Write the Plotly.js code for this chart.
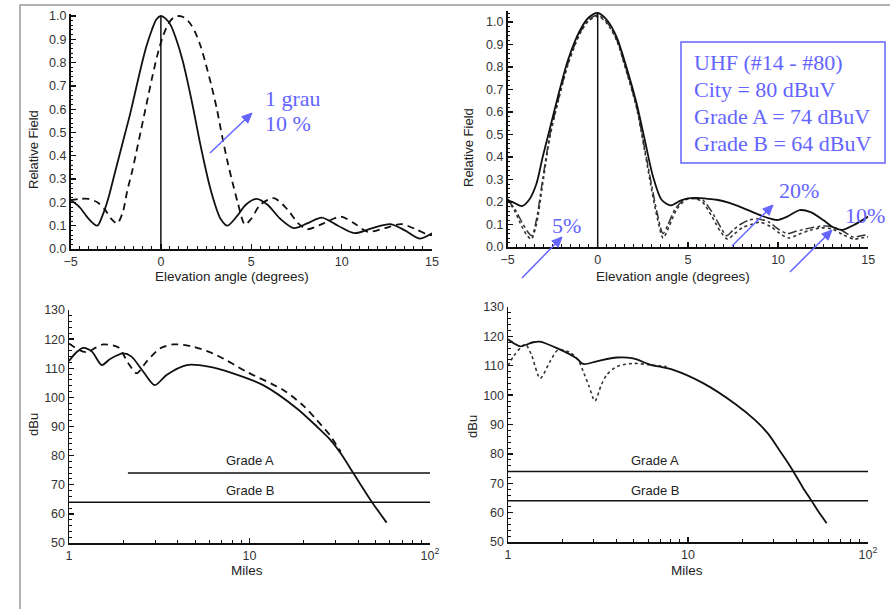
<!DOCTYPE html>
<html>
<head>
<meta charset="utf-8">
<script src="https://cdn.plot.ly/plotly-3.0.1.min.js"></script>
<style>html,body{margin:0;padding:0;background:#fff;}#chart{width:890px;height:609px;}</style>
</head>
<body>
<div id="chart"></div>
<script>
// ---------- DATA ----------
// Panel 1: relative field vs elevation angle (degrees)
const p1SolidX = [-5, -4.5, -4, -3.52, -3.2, -2.9, -2.6, -2.3, -2.0, -1.7, -1.4, -1.1, -0.8, -0.5, -0.25, 0, 0.25, 0.55, 0.85, 1.2, 1.5, 1.8, 2.1, 2.4, 2.7, 3.0, 3.3, 3.68, 4.2, 4.7, 5.3, 5.9, 6.6, 7.35, 8.1, 8.9, 9.8, 10.7, 11.7, 12.7, 13.5, 14.3, 15];
const p1SolidY = [0.21, 0.18, 0.13, 0.10, 0.15, 0.22, 0.31, 0.40, 0.49, 0.58, 0.68, 0.78, 0.87, 0.94, 0.985, 1.0, 0.99, 0.96, 0.90, 0.81, 0.71, 0.60, 0.48, 0.37, 0.27, 0.19, 0.13, 0.10, 0.14, 0.19, 0.215, 0.19, 0.13, 0.09, 0.11, 0.135, 0.10, 0.068, 0.09, 0.107, 0.08, 0.045, 0.068];
const p1DashX = [-5, -4.5, -4.0, -3.5, -3.1, -2.75, -2.41, -2.1, -1.86, -1.6, -1.4, -1.1, -0.8, -0.5, -0.2, 0.1, 0.4, 0.7, 1.0, 1.3, 1.6, 1.9, 2.2, 2.5, 2.8, 3.1, 3.4, 3.7, 3.95, 4.25, 4.65, 5.0, 5.5, 6.25, 7.0, 7.6, 8.1, 9.0, 9.95, 10.7, 11.45, 12.4, 13.3, 14.1, 14.8, 15];
const p1DashY = [0.21, 0.215, 0.215, 0.20, 0.17, 0.13, 0.11, 0.16, 0.25, 0.33, 0.40, 0.51, 0.62, 0.73, 0.83, 0.91, 0.965, 0.993, 1.0, 0.993, 0.97, 0.93, 0.87, 0.79, 0.70, 0.60, 0.48, 0.37, 0.29, 0.20, 0.105, 0.13, 0.19, 0.218, 0.17, 0.11, 0.085, 0.11, 0.139, 0.11, 0.074, 0.09, 0.107, 0.085, 0.06, 0.06];

// Panel 2: three null-fill patterns (solid 20%, dash-dot 10%, dotted 5%)
const p2SolidX = [-5, -4.6, -4.2, -3.8, -3.4, -3.05, -2.67, -2.2, -1.65, -1.0, -0.5, 0, 0.5, 1.04, 1.59, 2.15, 2.61, 3.07, 3.54, 4.05, 4.55, 5.0, 5.5, 6.0, 6.6, 7.3, 8.0, 8.8, 9.4, 9.95, 10.5, 11.2, 11.8, 12.5, 13.0, 13.55, 14.2, 15];
const p2SolidY = [0.21, 0.195, 0.182, 0.21, 0.28, 0.40, 0.52, 0.67, 0.83, 0.96, 1.02, 1.04, 1.01, 0.935, 0.80, 0.64, 0.476, 0.312, 0.21, 0.185, 0.205, 0.216, 0.218, 0.215, 0.21, 0.196, 0.175, 0.148, 0.13, 0.12, 0.135, 0.164, 0.155, 0.12, 0.09, 0.076, 0.098, 0.135];
const p2DashDotX = [-5, -4.6, -4.2, -3.9, -3.65, -3.4, -3.05, -2.67, -2.2, -1.65, -1.0, -0.5, 0, 0.5, 1.04, 1.59, 2.15, 2.6, 3.0, 3.3, 3.62, 3.9, 4.3, 4.8, 5.3, 5.8, 6.3, 6.8, 7.15, 7.5, 7.9, 8.4, 8.9, 9.5, 10.0, 10.5, 11.0, 11.8, 12.5, 13.0, 13.6, 14.15, 14.6, 15];
const p2DashDotY = [0.21, 0.17, 0.11, 0.07, 0.05, 0.12, 0.30, 0.49, 0.65, 0.815, 0.95, 1.01, 1.03, 1.0, 0.925, 0.785, 0.625, 0.44, 0.27, 0.15, 0.06, 0.10, 0.17, 0.21, 0.216, 0.21, 0.16, 0.09, 0.05, 0.075, 0.10, 0.12, 0.125, 0.11, 0.08, 0.06, 0.07, 0.085, 0.093, 0.09, 0.07, 0.045, 0.05, 0.055];
const p2DotX = [-5, -4.6, -4.2, -3.9, -3.68, -3.4, -3.05, -2.67, -2.2, -1.65, -1.0, -0.5, 0, 0.5, 1.04, 1.59, 2.15, 2.6, 3.0, 3.3, 3.63, 3.95, 4.4, 4.9, 5.35, 5.8, 6.3, 6.8, 7.2, 7.6, 8.0, 8.5, 9.0, 9.6, 10.1, 10.6, 11.1, 11.8, 12.4, 13.0, 13.6, 14.2, 14.6, 15];
const p2DotY = [0.21, 0.16, 0.09, 0.05, 0.035, 0.10, 0.28, 0.48, 0.645, 0.81, 0.945, 1.005, 1.025, 0.995, 0.92, 0.78, 0.62, 0.43, 0.25, 0.13, 0.04, 0.09, 0.17, 0.21, 0.216, 0.20, 0.14, 0.07, 0.035, 0.06, 0.085, 0.10, 0.11, 0.09, 0.06, 0.04, 0.055, 0.075, 0.085, 0.08, 0.055, 0.035, 0.04, 0.045];

// Centre (0 degree) reference lines
const centerX = [0, 0];
const p1CenterY = [0, 1.0];
const p2CenterY = [0, 1.04];

// Panel 3: field strength (dBu) vs distance (miles)
const p3SolidX = [1.0, 1.1, 1.2, 1.34, 1.52, 1.69, 2.0, 2.22, 2.58, 2.99, 3.47, 4.49, 6.04, 7.8, 11.9, 18.3, 23.6, 27.9, 32, 37.6, 42.5, 47.5, 52.5, 57.5];
const p3SolidY = [112.5, 115.5, 117, 115.7, 111.1, 113.2, 115.1, 114, 108.8, 104.2, 107.7, 111.1, 110.5, 108.6, 104.2, 96.2, 90, 85.6, 80.8, 74, 68.8, 64.2, 60.4, 57];
const p3DashX = [1.0, 1.12, 1.25, 1.4, 1.55, 1.88, 2.13, 2.37, 2.69, 3.19, 3.78, 4.88, 6.58, 9.64, 15.4, 20, 23.6, 27.9, 32];
const p3DashY = [118.5, 116.5, 115.5, 117, 118.2, 117.1, 111.7, 108.3, 112.3, 116.8, 118.2, 117.4, 114.5, 108.8, 102.5, 97, 92.2, 87, 81.3];

// Panel 4
const p4SolidX = [1.0, 1.08, 1.17, 1.38, 1.5, 1.87, 2.41, 2.62, 3.11, 4.02, 4.96, 6.15, 8.28, 12.2, 18.3, 23.6, 27.9, 32, 35, 38.5, 43.5, 48.6, 53.5, 58.9];
const p4SolidY = [119, 117.6, 116.6, 118, 118.2, 116, 112.5, 110.6, 111.5, 112.8, 112.5, 110.4, 108.6, 104, 97, 91.5, 86.8, 81.5, 78, 74, 68.5, 64, 60, 56.4];
const p4DotX = [1.0, 1.08, 1.17, 1.25, 1.35, 1.51, 1.71, 1.9, 2.2, 2.45, 2.62, 2.82, 3.04, 3.3, 3.53, 4.02, 4.96, 6.15, 7.6];
const p4DotY = [110, 113.5, 116, 117.3, 113.7, 105.7, 111.4, 115.4, 114.6, 112, 108, 103, 98, 103.5, 106.8, 109.7, 110.8, 110.3, 109.7];

// Service contour levels
const gradeA = 74, gradeB = 64;
const p3GradeAX = [2.12, 100], p3GradeBX = [1, 100];
const p4GradeAX = [1, 100], p4GradeBX = [1, 100];

// Tick labels
const elevTicks = [-5, 0, 5, 10, 15];
const milesTicks = [1, 10, 100];
const milesTickText = ['1', '10', '10<sup>2</sup>'];
const milesMinor = [2,3,4,5,6,7,8,9,20,30,40,50,60,70,80,90];
const infoLines = ['UHF (#14 - #80)', 'City = 80 dBuV', 'Grade A = 74 dBuV', 'Grade B = 64 dBuV'];

// ---------- LAYOUT HELPERS ----------
const W = 890, H = 609;
const X = px => px / W;
const Y = py => 1 - py / H;
const INK = '#111';
const BLUE = 'rgb(100,100,255)';
const SANS = 'Liberation Sans, Arial, sans-serif';
const SERIF = 'Liberation Serif, Times New Roman, serif';

function axis(extra) {
  return Object.assign({
    showline: true, linecolor: INK, linewidth: 1.5,
    ticks: 'inside', ticklen: 5, tickwidth: 1.3, tickcolor: INK,
    showgrid: false, zeroline: false, fixedrange: true,
    tickfont: {family: SANS, size: 12.5, color: '#333'}
  }, extra);
}

function line(x, y, xa, ya, dash, width, color) {
  return {x: x, y: y, xaxis: xa, yaxis: ya, type: 'scatter', mode: 'lines',
    line: {color: color || INK, width: width || 1.8, dash: dash || 'solid', shape: 'spline', smoothing: 0.8},
    hoverinfo: 'skip'};
}
function straight(x, y, xa, ya, width) {
  return {x: x, y: y, xaxis: xa, yaxis: ya, type: 'scatter', mode: 'lines',
    line: {color: INK, width: width || 1.5}, hoverinfo: 'skip'};
}

const traces = [
  line(p1SolidX, p1SolidY, 'x', 'y'),
  line(p1DashX, p1DashY, 'x', 'y', '7px,5px'),
  straight(centerX, p1CenterY, 'x', 'y', 1.5),
  line(p2DotX, p2DotY, 'x2', 'y2', 'dot', 1.6, '#333'),
  line(p2DashDotX, p2DashDotY, 'x2', 'y2', 'dashdot', 1.5, '#333'),
  line(p2SolidX, p2SolidY, 'x2', 'y2'),
  straight(centerX, p2CenterY, 'x2', 'y2', 1.5),
  line(p3SolidX, p3SolidY, 'x3', 'y3'),
  line(p3DashX, p3DashY, 'x3', 'y3', '7px,5px'),
  straight(p3GradeAX, [gradeA, gradeA], 'x3', 'y3'),
  straight(p3GradeBX, [gradeB, gradeB], 'x3', 'y3'),
  line(p4DotX, p4DotY, 'x4', 'y4', 'dot', 1.6, '#333'),
  line(p4SolidX, p4SolidY, 'x4', 'y4'),
  straight(p4GradeAX, [gradeA, gradeA], 'x4', 'y4'),
  straight(p4GradeBX, [gradeB, gradeB], 'x4', 'y4')
];

const elevMinor = {ticks: 'inside', ticklen: 3, tickwidth: 1, tickcolor: INK, dtick: 0.5};
const relMinor = {ticks: 'inside', ticklen: 2.5, tickwidth: 1, tickcolor: INK, dtick: 0.02};
const dbMinor = {ticks: 'inside', ticklen: 3, tickwidth: 1, tickcolor: INK, dtick: 2};
const logMinor = {ticks: 'inside', ticklen: 3, tickwidth: 1, tickcolor: INK, tickmode: 'array', tickvals: milesMinor};

function title(text, px, py, rot) {
  return {text: text, xref: 'paper', yref: 'paper', x: X(px), y: Y(py), showarrow: false,
    textangle: rot || 0, xanchor: 'center', yanchor: 'middle',
    font: {family: SANS, size: rot ? 13 : 13.5, color: '#222'}};
}
function blueText(text, px, py) {
  return {text: text, xref: 'paper', yref: 'paper', x: X(px), y: Y(py), showarrow: false,
    xanchor: 'left', yanchor: 'middle', font: {family: SERIF, size: 22, color: BLUE}};
}
function gradeLabel(text, xa, ya, xv, yv) {
  return {text: text, xref: xa, yref: ya, x: Math.log10(xv), y: yv, showarrow: false,
    xanchor: 'center', yanchor: 'middle', font: {family: SANS, size: 13, color: '#222'}};
}
// Blue pointer arrows drawn as shapes (tail pixel -> head pixel)
function arrowShapes(tx, ty, hx, hy) {
  const dx = hx - tx, dy = hy - ty, len = Math.hypot(dx, dy);
  const ux = dx / len, uy = dy / len, nx = -uy, ny = ux;
  const L = 10, w = 4.5;
  const bx = hx - L * ux, by = hy - L * uy;
  const p = (a, b) => X(a) + ',' + Y(b);
  return [
    {type: 'line', xref: 'paper', yref: 'paper', x0: X(tx), y0: Y(ty), x1: X(bx + 2 * ux), y1: Y(by + 2 * uy), line: {color: BLUE, width: 1.5}},
    {type: 'path', xref: 'paper', yref: 'paper', path: 'M' + p(hx, hy) + ' L' + p(bx + w * nx, by + w * ny) + ' L' + p(bx - w * nx, by - w * ny) + ' Z',
      fillcolor: BLUE, line: {color: BLUE, width: 1}}
  ];
}

const annotations = [
  title('Elevation angle (degrees)', 232, 276),
  title('Elevation angle (degrees)', 673, 276),
  title('Relative Field', 33, 150, -90),
  title('Relative Field', 468, 148, -90),
  title('Miles', 247, 570),
  title('Miles', 687, 570),
  title('dBu', 33, 425, -90),
  title('dBu', 472, 427, -90),
  gradeLabel('Grade A', 'x3', 'y3', 10.07, 78.2),
  gradeLabel('Grade B', 'x3', 'y3', 10.07, 67.9),
  gradeLabel('Grade A', 'x4', 'y4', 6.56, 77.6),
  gradeLabel('Grade B', 'x4', 'y4', 6.56, 67.4),
  blueText('1 grau', 263, 98),
  blueText('10 %', 263, 124),
  blueText('5%', 550, 225),
  blueText('20%', 777, 190),
  blueText('10%', 843, 215)
];
infoLines.forEach((t, i) => annotations.push(blueText(t, 692, 63 + i * 26.7)));

const shapes = [
  {type: 'rect', xref: 'paper', yref: 'paper', x0: X(20), x1: X(900), y0: Y(5), y1: Y(640), line: {color: '#999', width: 1.5}},
  {type: 'rect', xref: 'paper', yref: 'paper', x0: X(681), x1: X(885), y0: Y(42), y1: Y(163), line: {color: BLUE, width: 1.5}}
].concat(
  arrowShapes(210, 153, 252, 113),
  arrowShapes(522, 278, 562, 237),
  arrowShapes(732, 246, 773, 205),
  arrowShapes(790, 272, 832, 230)
);

const layout = {
  width: W, height: H, margin: {l: 0, r: 0, t: 0, b: 0},
  paper_bgcolor: '#fff', plot_bgcolor: 'rgba(0,0,0,0)', showlegend: false,
  xaxis: axis({domain: [X(70.5), X(432)], range: [-5, 15], tickmode: 'array', tickvals: elevTicks, anchor: 'y', minor: elevMinor}),
  yaxis: axis({domain: [Y(249), Y(249 - 1.01 * 233)], range: [0, 1.01], dtick: 0.1, tick0: 0, tickformat: '.1f', anchor: 'x', minor: relMinor}),
  xaxis2: axis({domain: [X(507.5), X(868.3)], range: [-5, 15], tickmode: 'array', tickvals: elevTicks, anchor: 'y2', minor: elevMinor}),
  yaxis2: axis({domain: [Y(247), Y(247 - 1.05 * 225)], range: [0, 1.05], dtick: 0.1, tick0: 0, tickformat: '.1f', anchor: 'x2', minor: relMinor}),
  xaxis3: axis({domain: [X(69), X(430)], type: 'log', range: [0, 2], tickmode: 'array', tickvals: milesTicks, ticktext: milesTickText, anchor: 'y3', minor: logMinor}),
  yaxis3: axis({domain: [Y(543), Y(310)], range: [50, 130], dtick: 10, tick0: 50, anchor: 'x3', minor: dbMinor}),
  xaxis4: axis({domain: [X(508), X(868)], type: 'log', range: [0, 2], tickmode: 'array', tickvals: milesTicks, ticktext: milesTickText, anchor: 'y4', minor: logMinor}),
  yaxis4: axis({domain: [Y(542), Y(307)], range: [50, 130], dtick: 10, tick0: 50, anchor: 'x4', minor: dbMinor}),
  annotations: annotations,
  shapes: shapes
};

Plotly.newPlot('chart', traces, layout, {displayModeBar: false, staticPlot: true});
</script>
</body>
</html>
